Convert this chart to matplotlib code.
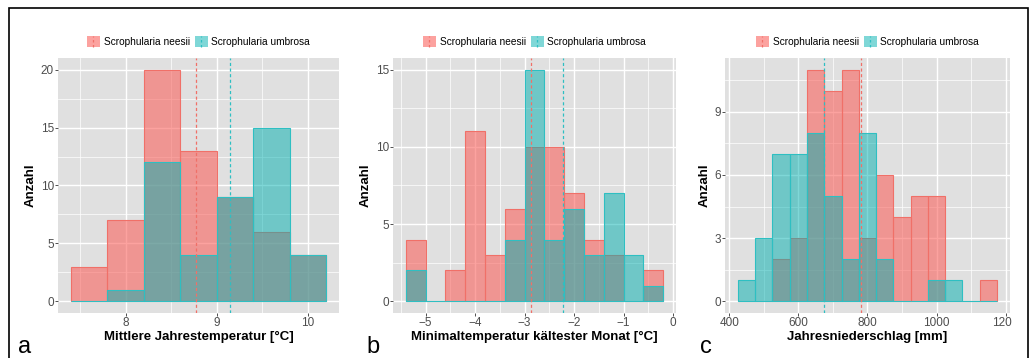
import matplotlib
matplotlib.use("Agg")
import matplotlib.pyplot as plt
import numpy as np
from matplotlib.patches import Rectangle
from matplotlib.lines import Line2D
from matplotlib.legend_handler import HandlerBase
from matplotlib.ticker import MultipleLocator
from matplotlib.transforms import Bbox, TransformedBbox

plt.rcParams['font.family'] = ['Liberation Sans', 'DejaVu Sans']

# --- data (counts per bin) ---
# a: Mittlere Jahrestemperatur, bins of 0.4 starting at 7.4
a_start, a_width = 7.4, 0.4
a_neesii = [3, 7, 20, 13, 9, 6, 4]
a_umbrosa = [0, 1, 12, 4, 9, 15, 4]
a_means = [8.77, 9.15]

# b: Minimaltemperatur kaeltester Monat, bins of 0.4 starting at -5.4
b_start, b_width = -5.4, 0.4
b_neesii = [4, 0, 2, 11, 3, 6, 10, 10, 7, 4, 3, 0, 2]
b_umbrosa = [2, 0, 0, 0, 0, 4, 15, 4, 6, 3, 7, 3, 1]
b_means = [-2.87, -2.23]

# c: Jahresniederschlag, bins of 50 starting at 425
c_start, c_width = 425, 50
c_neesii = [0, 0, 2, 3, 11, 10, 11, 3, 6, 4, 5, 5, 0, 0, 1]
c_umbrosa = [1, 3, 7, 7, 8, 5, 2, 8, 2, 0, 0, 1, 1, 0, 0]
c_means = [781, 674]

species = ["Scrophularia neesii", "Scrophularia umbrosa"]

pink_fill = (250/255, 100/255, 95/255, 0.6)
pink_edge = "#F07068"
teal_fill = (0, 176/255, 176/255, 0.5)
teal_edge = "#2EBFC2"
bg = "#E0E0E0"


class KeyEntry:
    def __init__(self, face, line):
        self.face = face
        self.line = line


class KeyHandler(HandlerBase):
    def create_artists(self, legend, orig_handle, xdescent, ydescent,
                       width, height, fontsize, trans):
        r = Rectangle((-xdescent, -ydescent), width, height,
                      facecolor=orig_handle.face, edgecolor='none', transform=trans)
        x = -xdescent + width / 2
        l = Line2D([x, x], [-ydescent, -ydescent + height], color=orig_handle.line,
                   ls=(0, (2, 2)), lw=0.9, transform=trans)
        return [r, l]


fig = plt.figure(figsize=(10.31, 3.58), dpi=100)

boxes = [(0.0563, 0.2725), (0.3812, 0.2745), (0.7032, 0.2764)]
bottom, height = 0.1257, 0.7123

panels = [
    (a_start, a_width, a_neesii, a_umbrosa, a_means, "Mittlere Jahrestemperatur [°C]",
     1, 0.5, 5, 2.5),
    (b_start, b_width, b_neesii, b_umbrosa, b_means, "Minimaltemperatur kältester Monat [°C]",
     1, 0.5, 5, 2.5),
    (c_start, c_width, c_neesii, c_umbrosa, c_means, "Jahresniederschlag [mm]",
     200, 100, 3, 1.5),
]
letters = ["a", "b", "c"]
letter_x = [25, 373, 706]

axes = []
for (left, w), (start, width, nee, umb, means, xlabel, xmaj, xmin_, ymaj, ymin_), let, lx in zip(
        boxes, panels, letters, letter_x):
    ax = fig.add_axes([left, bottom, w, height])
    axes.append(ax)
    ax.set_facecolor(bg)
    n = len(nee)
    edges = start + width * np.arange(n)
    ax.bar(edges, nee, width=width, align='edge', facecolor=pink_fill,
           edgecolor=pink_edge, linewidth=0.8, zorder=2)
    ax.bar(edges, umb, width=width, align='edge', facecolor=teal_fill,
           edgecolor=teal_edge, linewidth=0.8, zorder=3)
    ax.axvline(means[0], color=pink_edge, ls=(0, (2.5, 2)), lw=0.9, zorder=4)
    ax.axvline(means[1], color=teal_edge, ls=(0, (2.5, 2)), lw=0.9, zorder=4)

    lo, hi = start, start + width * n
    pad = (hi - lo) * 0.05
    ax.set_xlim(lo - pad, hi + pad)
    top = max(max(nee), max(umb))
    ax.set_ylim(-top * 0.05, top * 1.05)

    ax.xaxis.set_major_locator(MultipleLocator(xmaj))
    ax.xaxis.set_minor_locator(MultipleLocator(xmin_))
    ax.yaxis.set_major_locator(MultipleLocator(ymaj))
    ax.yaxis.set_minor_locator(MultipleLocator(ymin_))
    ax.grid(which='major', color='white', lw=1.0, zorder=0)
    ax.grid(which='minor', color='white', lw=0.5, zorder=0)
    ax.set_axisbelow(True)
    for s in ax.spines.values():
        s.set_visible(False)
    ax.tick_params(which='major', length=2.5, width=0.6, color='#333333',
                   labelsize=8.5, labelcolor='#4D4D4D', pad=0.5)
    ax.tick_params(which='minor', length=0)

    ax.set_xlabel(xlabel, fontsize=9.5, fontweight='bold', labelpad=1)
    ax.set_ylabel("Anzahl", fontsize=9.5, fontweight='bold', labelpad=2.5)

    handles = [KeyEntry(pink_fill, pink_edge), KeyEntry(teal_fill, teal_edge)]
    ax.legend(handles, species, handler_map={KeyEntry: KeyHandler()},
              loc='center', bbox_to_anchor=(0.5, 1.065), ncol=2, frameon=False,
              fontsize=7.3, handlelength=1.3, handleheight=1.3, handletextpad=0.35,
              columnspacing=0.5, borderpad=0)

    fig.text(lx / 1031, 1 - 347 / 358, let, fontsize=17, ha='center', va='center')

# clip the last tick label of panel c like in the reference
clip = TransformedBbox(Bbox([[0, 0], [1012 / 1031, 1]]), fig.transFigure)
for t in axes[2].xaxis.get_major_ticks():
    t.label1.set_clip_on(True)
    t.label1.set_clip_box(clip)

# outer frame
fig.patches.append(Rectangle((9 / 1031, -0.05), (1028 - 9) / 1031, 0.05 + 1 - 8 / 358,
                             transform=fig.transFigure, fill=False,
                             edgecolor='black', lw=1.2))

fig.savefig("out.png", dpi=100)
